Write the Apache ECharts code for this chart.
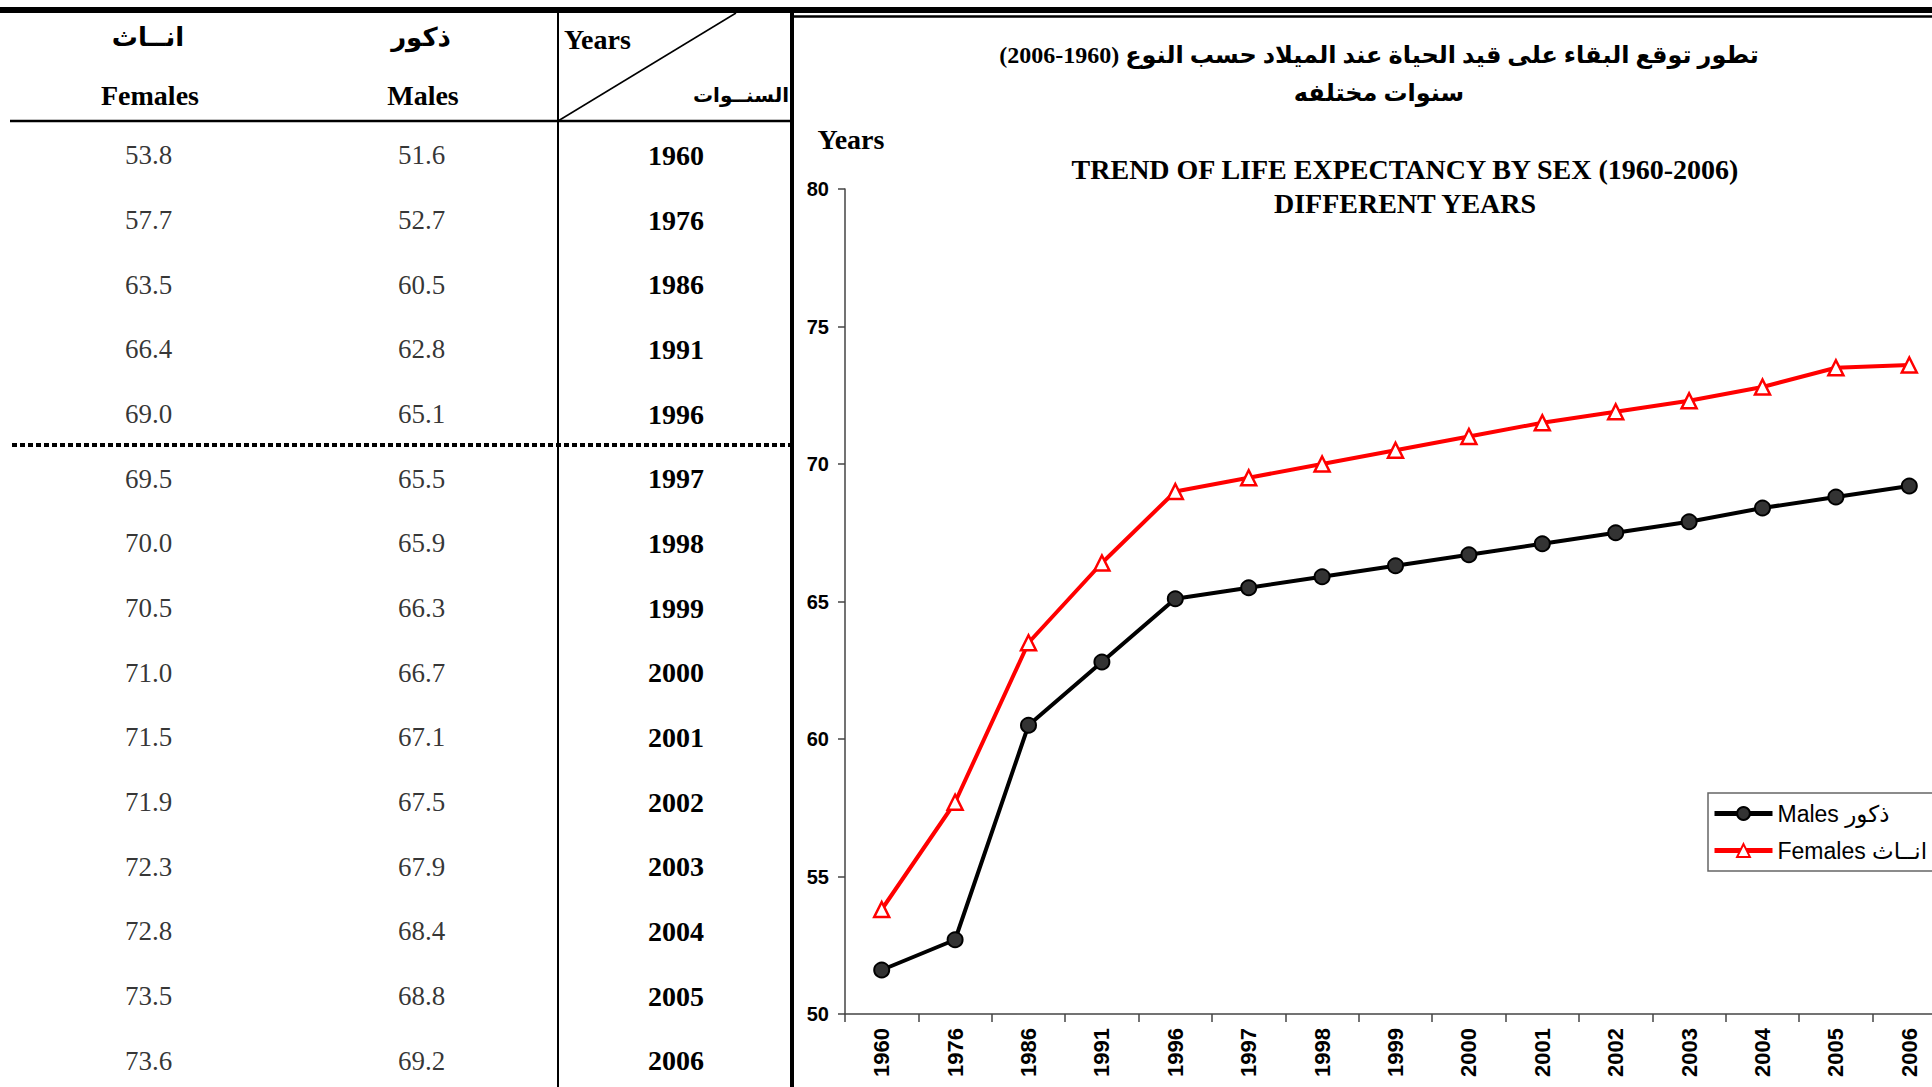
<!DOCTYPE html>
<html>
<head>
<meta charset="utf-8">
<script src="https://cdn.jsdelivr.net/npm/echarts@6/dist/echarts.min.js"></script>
<style>
  html, body { margin: 0; padding: 0; background: #fff; overflow: hidden; }
  #main { width: 1960px; height: 1100px; }
</style>
</head>
<body>
<div id="main"></div>
<script>
const years = ['1960', '1976', '1986', '1991', '1996', '1997', '1998', '1999', '2000', '2001', '2002', '2003', '2004', '2005', '2006']
const males = [51.6, 52.7, 60.5, 62.8, 65.1, 65.5, 65.9, 66.3, 66.7, 67.1, 67.5, 67.9, 68.4, 68.8, 69.2]
const females = [53.8, 57.7, 63.5, 66.4, 69.0, 69.5, 70.0, 70.5, 71.0, 71.5, 71.9, 72.3, 72.8, 73.5, 73.6]
const tableCols = ['Females', 'Males']
const yTicks = { min: 50, max: 80, interval: 5 }

const serif = "'Liberation Serif', 'DejaVu Sans', serif"
const sans = "'Liberation Sans', 'DejaVu Sans', sans-serif"

const chart = echarts.init(document.getElementById('main'), null, { renderer: 'svg' })

const cellLabel = {
  show: true,
  position: 'inside',
  fontFamily: serif,
  fontSize: 27,
  color: '#000',
  formatter: (p) => p.value[2].toFixed(1),
}

const option = {
  animation: false,
  backgroundColor: '#fff',
  title: [
    {
      text: 'تطور توقع البقاء على قيد الحياة عند الميلاد حسب النوع (1960-2006)\nسنوات مختلفه',
      left: 1374,
      top: 31,
      textAlign: 'center',
      textStyle: { fontFamily: serif, fontSize: 24, fontWeight: 'bold', lineHeight: 38, color: '#000' },
    },
    {
      text: 'TREND OF LIFE EXPECTANCY BY SEX (1960-2006)\nDIFFERENT YEARS',
      left: 1400,
      top: 147,
      textAlign: 'center',
      textStyle: { fontFamily: serif, fontSize: 28, fontWeight: 'bold', lineHeight: 34, color: '#000' },
    },
  ],
  legend: {
    orient: 'vertical',
    left: 1708,
    top: 793,
    padding: [9, 60, 9, 4],
    itemWidth: 58,
    itemHeight: 16,
    itemGap: 14,
    borderColor: '#666',
    borderWidth: 1.5,
    backgroundColor: '#fff',
    textStyle: { fontFamily: sans, fontSize: 23, color: '#000' },
    data: [
      { name: 'Males ذكور', lineStyle: { width: 5, color: '#000' } },
      { name: 'Females انــاث', lineStyle: { width: 5, color: '#ff0000' } },
    ],
  },
  grid: [
    { left: 845, top: 189, width: 1101, height: 825 },
    { left: 12, top: 123, width: 546, height: 970 },
  ],
  xAxis: [
    {
      gridIndex: 0,
      type: 'category',
      data: years,
      axisLine: { lineStyle: { color: '#444', width: 1.5 } },
      axisTick: { show: true, interval: 0, length: 8, lineStyle: { color: '#444', width: 1.5 } },
      axisLabel: {
        interval: 0,
        rotate: 90,
        margin: 14,
        fontFamily: sans,
        fontWeight: 'bold',
        fontSize: 22,
        color: '#000',
      },
    },
    {
      gridIndex: 1,
      type: 'category',
      data: tableCols,
      show: false,
    },
  ],
  yAxis: [
    {
      gridIndex: 0,
      type: 'value',
      min: yTicks.min,
      max: yTicks.max,
      interval: yTicks.interval,
      name: 'Years',
      nameLocation: 'end',
      nameGap: 36,
      nameTextStyle: { fontFamily: serif, fontSize: 28, fontWeight: 'bold', color: '#000', padding: [0, 0, 0, 12] },
      splitLine: { show: false },
      axisLine: { show: true, lineStyle: { color: '#444', width: 1.5 } },
      axisTick: { show: true, length: 7, lineStyle: { color: '#444', width: 1.5 } },
      axisLabel: { margin: 16, fontFamily: sans, fontWeight: 'bold', fontSize: 20, color: '#000' },
    },
    {
      gridIndex: 1,
      type: 'category',
      data: years,
      inverse: true,
      position: 'right',
      axisLine: { show: false },
      axisTick: { show: false },
      splitLine: { show: false },
      axisLabel: {
        interval: 0,
        align: 'center',
        margin: 118,
        fontFamily: serif,
        fontWeight: 'bold',
        fontSize: 28,
        color: '#000',
      },
    },
  ],
  series: [
    {
      name: 'Males ذكور',
      type: 'line',
      xAxisIndex: 0,
      yAxisIndex: 0,
      data: males,
      symbol: 'circle',
      symbolSize: 15,
      lineStyle: { color: '#000', width: 4 },
      itemStyle: { color: '#333', borderColor: '#000', borderWidth: 2 },
      z: 3,
    },
    {
      name: 'Females انــاث',
      type: 'line',
      xAxisIndex: 0,
      yAxisIndex: 0,
      data: females,
      symbol: 'triangle',
      symbolSize: 15,
      lineStyle: { color: '#ff0000', width: 4 },
      itemStyle: { color: '#fff', borderColor: '#ff0000', borderWidth: 2.5 },
      z: 3,
    },
    {
      name: 'tableFemales',
      type: 'scatter',
      xAxisIndex: 1,
      yAxisIndex: 1,
      symbolSize: 1,
      itemStyle: { color: 'rgba(0,0,0,0)' },
      label: cellLabel,
      data: females.map((v, i) => [tableCols[0], years[i], v]),
    },
    {
      name: 'tableMales',
      type: 'scatter',
      xAxisIndex: 1,
      yAxisIndex: 1,
      symbolSize: 1,
      itemStyle: { color: 'rgba(0,0,0,0)' },
      label: cellLabel,
      data: males.map((v, i) => [tableCols[1], years[i], v]),
    },
  ],
  graphic: [
    // frame lines of table and chart box
    { type: 'line', shape: { x1: 0, y1: 10, x2: 1960, y2: 10 }, style: { stroke: '#000', lineWidth: 6 } },
    { type: 'line', shape: { x1: 792, y1: 16.5, x2: 1960, y2: 16.5 }, style: { stroke: '#000', lineWidth: 2.5 } },
    { type: 'line', shape: { x1: 792, y1: 13, x2: 792, y2: 1100 }, style: { stroke: '#000', lineWidth: 4 } },
    { type: 'line', shape: { x1: 558, y1: 13, x2: 558, y2: 1100 }, style: { stroke: '#000', lineWidth: 2 } },
    { type: 'line', shape: { x1: 10, y1: 121, x2: 790, y2: 121 }, style: { stroke: '#000', lineWidth: 2.5 } },
    { type: 'line', shape: { x1: 558, y1: 121, x2: 736, y2: 13 }, style: { stroke: '#000', lineWidth: 1.5 } },
    { type: 'line', shape: { x1: 12, y1: 445, x2: 790, y2: 445 }, style: { stroke: '#000', lineWidth: 4, lineDash: [5, 3] } },
    // table header
    { type: 'text', x: 148, y: 37, style: { text: 'انــاث', font: 'bold 26px ' + serif, align: 'center', verticalAlign: 'middle', fill: '#000' } },
    { type: 'text', x: 150, y: 95, style: { text: 'Females', font: 'bold 28px ' + serif, align: 'center', verticalAlign: 'middle', fill: '#000' } },
    { type: 'text', x: 421, y: 37, style: { text: 'ذكور', font: 'bold 26px ' + serif, align: 'center', verticalAlign: 'middle', fill: '#000' } },
    { type: 'text', x: 423, y: 95, style: { text: 'Males', font: 'bold 28px ' + serif, align: 'center', verticalAlign: 'middle', fill: '#000' } },
    { type: 'text', x: 564, y: 39, style: { text: 'Years', font: 'bold 28px ' + serif, align: 'left', verticalAlign: 'middle', fill: '#000' } },
    { type: 'text', x: 789, y: 95, style: { text: 'السنــوات', font: 'bold 20px ' + serif, align: 'right', verticalAlign: 'middle', fill: '#000' } },
  ],
}

chart.setOption(option)
window.addEventListener('resize', function () {
  chart.resize()
})
</script>
</body>
</html>
